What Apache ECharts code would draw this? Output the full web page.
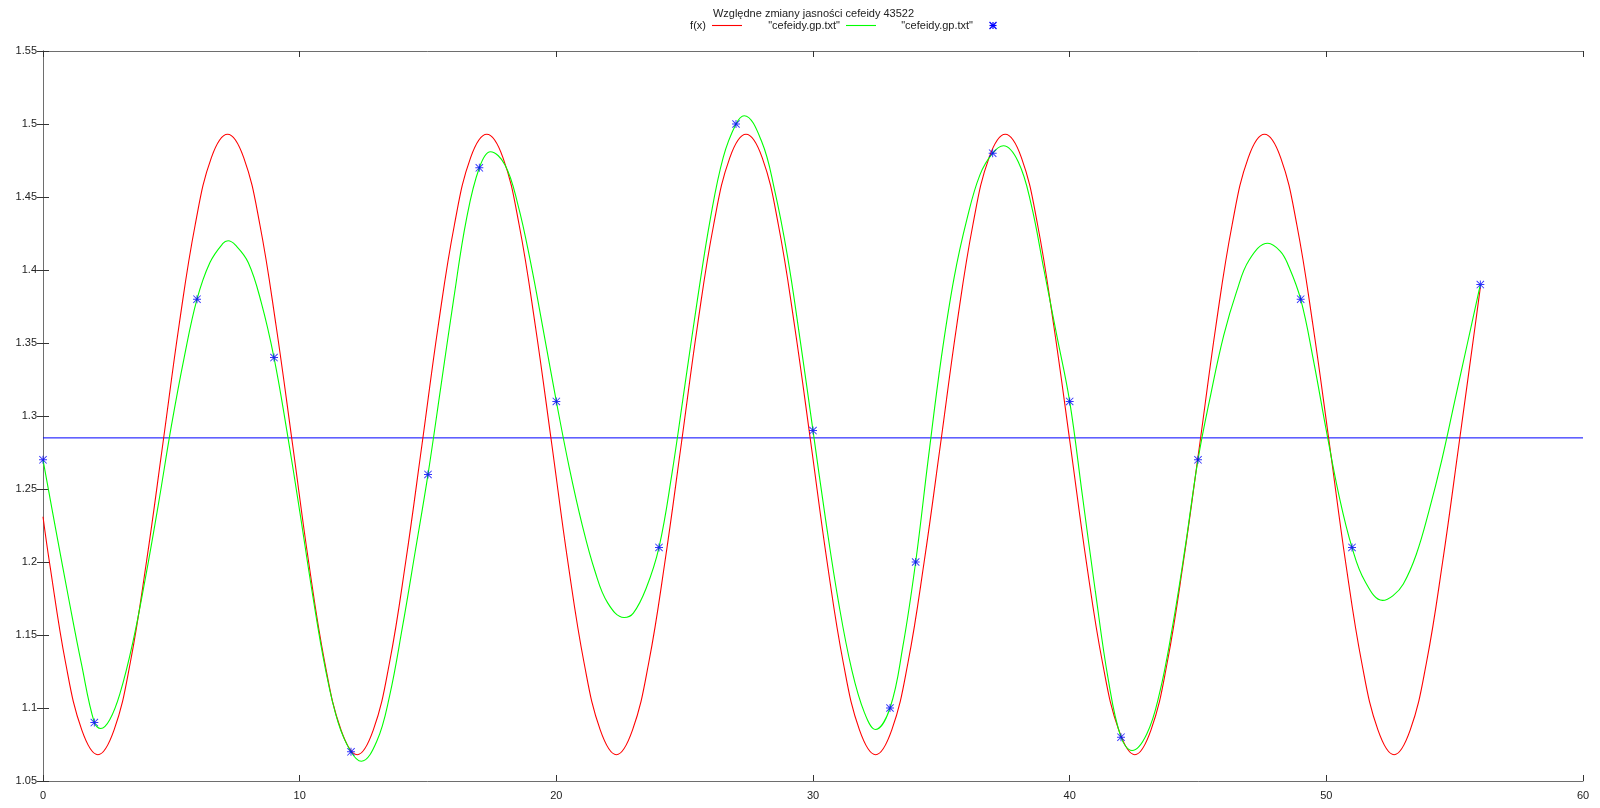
<!DOCTYPE html>
<html>
<head>
<meta charset="utf-8">
<script src="https://cdn.jsdelivr.net/npm/echarts@6/dist/echarts.min.js"></script>
<style>html,body{margin:0;padding:0;background:#fff}#c{width:1600px;height:808px}</style>
</head>
<body>
<div id="c"></div>
<script>
// ---- data ----
const titleText = 'Względne zmiany jasności cefeidy 43522';
const legendNames = ['f(x)', '"cefeidy.gp.txt"', '"cefeidy.gp.txt"'];

// measured points (blue asterisks)
const dataX = [0, 2, 6, 9, 12, 15, 17, 20, 24, 27, 30, 33, 34, 37, 40, 42, 45, 49, 51, 56];
const dataY = [1.27, 1.09, 1.38, 1.34, 1.07, 1.26, 1.47, 1.31, 1.21, 1.50, 1.29, 1.10, 1.20, 1.48, 1.31, 1.08, 1.27, 1.38, 1.21, 1.39];

// red curve f(x)
const redX = [0, 0.25, 0.88, 1.51,
  2.14, 2.77, 3.40, 4.03, 4.67, 5.30, 5.93, 6.56, 7.19, 7.82, 8.45, 9.08, 9.72, 10.35, 10.98, 11.61,
  12.24, 12.87, 13.50, 14.13, 14.77, 15.40, 16.03, 16.66, 17.29, 17.92, 18.55, 19.18, 19.82, 20.45, 21.08, 21.71,
  22.34, 22.97, 23.60, 24.23, 24.87, 25.50, 26.13, 26.76, 27.39, 28.02, 28.65, 29.28, 29.92, 30.55, 31.18, 31.81,
  32.44, 33.07, 33.70, 34.33, 34.97, 35.60, 36.23, 36.86, 37.49, 38.12, 38.75, 39.38, 40.02, 40.65, 41.28, 41.91,
  42.54, 43.17, 43.80, 44.43, 45.07, 45.70, 46.33, 46.96, 47.59, 48.22, 48.85, 49.48, 50.12, 50.75, 51.38, 52.01,
  52.64, 53.27, 53.90, 54.53, 55.17, 55.80, 56];
const redY = [1.231, 1.200, 1.131, 1.085,
  1.068, 1.085, 1.131, 1.200, 1.281, 1.362, 1.431, 1.477, 1.493, 1.477, 1.431, 1.362, 1.281, 1.200, 1.131, 1.085,
  1.068, 1.085, 1.131, 1.200, 1.281, 1.362, 1.431, 1.477, 1.493, 1.477, 1.431, 1.362, 1.281, 1.200, 1.131, 1.085,
  1.068, 1.085, 1.131, 1.200, 1.281, 1.362, 1.431, 1.477, 1.493, 1.477, 1.431, 1.362, 1.281, 1.200, 1.131, 1.085,
  1.068, 1.085, 1.131, 1.200, 1.281, 1.362, 1.431, 1.477, 1.493, 1.477, 1.431, 1.362, 1.281, 1.200, 1.131, 1.085,
  1.068, 1.085, 1.131, 1.200, 1.281, 1.362, 1.431, 1.477, 1.493, 1.477, 1.431, 1.362, 1.281, 1.200, 1.131, 1.085,
  1.068, 1.085, 1.131, 1.200, 1.281, 1.362, 1.388];

// green curve (spline through the data)
const greenX = [0, 0.5, 1, 1.5, 2, 2.25, 2.6, 3, 3.5, 4,
  4.5, 5, 5.5, 6, 6.5, 7, 7.21, 7.5, 8, 8.5,
  9, 9.5, 10, 10.5, 11, 11.5, 12, 12.4, 13, 13.5,
  14, 14.5, 15, 15.5, 16, 16.5, 17, 17.43, 18, 18.5,
  19, 19.5, 20, 20.5, 21, 21.5, 22, 22.64, 23, 23.5,
  24, 24.5, 25, 25.5, 26, 26.5, 27, 27.32, 28, 28.5,
  29, 29.5, 30, 30.5, 31, 31.5, 32, 32.43, 33, 33.5,
  34, 34.5, 35, 35.5, 36, 36.5, 37, 37.42, 38, 38.5,
  39, 39.5, 40, 40.5, 41, 41.5, 42, 42.43, 43, 43.5,
  44, 44.5, 45, 45.5, 46, 46.5, 47, 47.72, 48.2, 48.5,
  49, 49.5, 50, 50.5, 51, 51.5, 52.19, 52.6, 53, 53.5,
  54, 54.5, 55, 55.5, 56];
const greenY = [1.27, 1.222, 1.175, 1.13, 1.09, 1.086, 1.092, 1.11, 1.145, 1.19,
  1.24, 1.293, 1.34, 1.38, 1.405, 1.418, 1.420, 1.417, 1.405, 1.378,
  1.34, 1.29, 1.235, 1.178, 1.127, 1.09, 1.07, 1.0635, 1.077, 1.108,
  1.155, 1.207, 1.26, 1.32, 1.38, 1.435, 1.47, 1.481, 1.472, 1.445,
  1.405, 1.358, 1.31, 1.265, 1.226, 1.194, 1.172, 1.162, 1.165, 1.182,
  1.21, 1.26, 1.32, 1.38, 1.435, 1.477, 1.50, 1.5057, 1.488, 1.455,
  1.41, 1.352, 1.29, 1.228, 1.172, 1.127, 1.097, 1.0853, 1.10, 1.142,
  1.20, 1.272, 1.34, 1.395, 1.435, 1.465, 1.48, 1.4851, 1.474, 1.445,
  1.40, 1.355, 1.31, 1.245, 1.18, 1.12, 1.08, 1.0709, 1.082, 1.11,
  1.155, 1.21, 1.27, 1.315, 1.355, 1.385, 1.407, 1.4183, 1.413, 1.404,
  1.38, 1.338, 1.29, 1.245, 1.21, 1.187, 1.1737, 1.177, 1.185, 1.205,
  1.235, 1.27, 1.31, 1.35, 1.39];

// horizontal reference line
const hLineX = [0, 60];
const hLineY = [1.285, 1.285];

const xMin = 0, xMax = 60, xStep = 10;
const yMin = 1.05, yMax = 1.55, yStep = 0.05;

// ---- chart ----
const FONT = '"Liberation Sans", Arial, sans-serif';
const pairs = (xs, ys) => xs.map((x, i) => [x, ys[i]]);
const ASTER = 'path://M0,4.4L10,4.4L10,5.6L0,5.6Z M4.4,0L5.6,0L5.6,10L4.4,10Z M0.8,0L10,9.2L9.2,10L0,0.8Z M9.2,0L10,0.8L0.8,10L0,9.2Z';
const frame = {lineStyle: {color: '#6e6e6e', width: 1}};
const tickStyle = {inside: true, length: 6, lineStyle: {color: '#333', width: 1}};

const chart = echarts.init(document.getElementById('c'), null, {renderer: 'canvas'});
const astX = 993, astY = 25.5, r = 3.5;
chart.setOption({
  animation: false,
  backgroundColor: '#ffffff',
  grid: {left: 43, right: 17, top: 51, bottom: 27},
  xAxis: [
    {type: 'value', min: xMin, max: xMax, interval: xStep, position: 'bottom',
     axisLine: {show: true, ...frame}, axisTick: tickStyle, splitLine: {show: false},
     axisLabel: {margin: 9, color: '#222', fontFamily: FONT, fontSize: 11}},
    {type: 'value', min: xMin, max: xMax, interval: xStep, position: 'top',
     axisLine: {show: true, ...frame}, axisTick: tickStyle, splitLine: {show: false},
     axisLabel: {show: false}}
  ],
  yAxis: [
    {type: 'value', min: yMin, max: yMax, interval: yStep, position: 'left',
     axisLine: {show: true, ...frame}, axisTick: tickStyle, splitLine: {show: false},
     axisLabel: {margin: 6, color: '#222', fontFamily: FONT, fontSize: 11,
       formatter: v => String(Math.round(v * 100) / 100)}},
    {type: 'value', min: yMin, max: yMax, interval: yStep, position: 'right',
     axisLine: {show: true, ...frame}, axisTick: tickStyle, splitLine: {show: false},
     axisLabel: {show: false}}
  ],
  series: [
    {name: legendNames[0], type: 'line', data: pairs(redX, redY), smooth: 0.4, showSymbol: false,
     lineStyle: {color: '#ff0000', width: 1.1}, z: 3},
    {name: legendNames[1], type: 'line', data: pairs(greenX, greenY), smooth: 0.4, showSymbol: false,
     lineStyle: {color: '#00ff00', width: 1.1}, z: 4},
    {name: 'points', type: 'scatter', data: pairs(dataX, dataY), symbol: ASTER, symbolSize: 8,
     itemStyle: {color: '#0000ff'}, z: 6},
    {name: 'level', type: 'line', data: pairs(hLineX, hLineY), showSymbol: false,
     lineStyle: {color: '#0000ff', width: 1}, z: 2}
  ],
  graphic: [
    {type: 'text', x: 813.5, y: 14, style: {text: titleText, font: '11px ' + FONT, fill: '#222',
      textAlign: 'center', textVerticalAlign: 'middle'}},
    {type: 'text', x: 706, y: 26, style: {text: legendNames[0], font: '11px ' + FONT, fill: '#222',
      textAlign: 'right', textVerticalAlign: 'middle'}},
    {type: 'line', shape: {x1: 712, y1: 25.5, x2: 742, y2: 25.5}, style: {stroke: '#ff0000', lineWidth: 1.1}},
    {type: 'text', x: 840, y: 26, style: {text: legendNames[1], font: '11px ' + FONT, fill: '#222',
      textAlign: 'right', textVerticalAlign: 'middle'}},
    {type: 'line', shape: {x1: 846, y1: 25.5, x2: 876, y2: 25.5}, style: {stroke: '#00ff00', lineWidth: 1.1}},
    {type: 'text', x: 973, y: 26, style: {text: legendNames[2], font: '11px ' + FONT, fill: '#222',
      textAlign: 'right', textVerticalAlign: 'middle'}},
    {type: 'group', children: [
      {type: 'line', shape: {x1: astX - r, y1: astY, x2: astX + r, y2: astY}, style: {stroke: '#0000ff', lineWidth: 1.2}},
      {type: 'line', shape: {x1: astX, y1: astY - r, x2: astX, y2: astY + r}, style: {stroke: '#0000ff', lineWidth: 1.2}},
      {type: 'line', shape: {x1: astX - r, y1: astY - r, x2: astX + r, y2: astY + r}, style: {stroke: '#0000ff', lineWidth: 1.2}},
      {type: 'line', shape: {x1: astX + r, y1: astY - r, x2: astX - r, y2: astY + r}, style: {stroke: '#0000ff', lineWidth: 1.2}}
    ]}
  ]
});
</script>
</body>
</html>
